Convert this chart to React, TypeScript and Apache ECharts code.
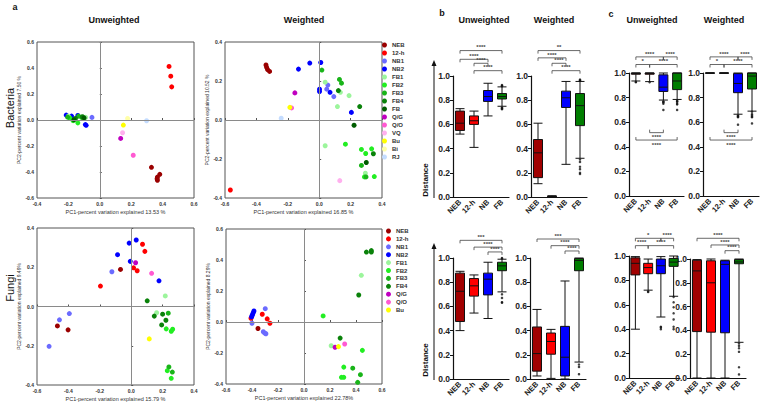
import React, { useEffect, useRef } from 'react';
import * as echarts from 'echarts';

// ---------- DATA ----------
const GROUP_ORDER = ['NEB', '12-h', 'NB1', 'NB2', 'FB1', 'FB2', 'FB3', 'FB4', 'FB', 'Q/G', 'Q/O', 'VQ', 'Bu', 'Bi', 'RJ'];
const LEGEND_BACTERIA = ['NEB', '12-h', 'NB1', 'NB2', 'FB1', 'FB2', 'FB3', 'FB4', 'FB', 'Q/G', 'Q/O', 'VQ', 'Bu', 'Bi', 'RJ'];
const LEGEND_FUNGI = ['NEB', '12-h', 'NB1', 'NB2', 'FB1', 'FB2', 'FB3', 'FB4', 'Q/G', 'Q/O', 'Bu'];

type Pt = [string, number, number];

const bacteriaUnweighted: Pt[] = [
  ['12-h', 0.441, 0.412], ['12-h', 0.452, 0.337], ['12-h', 0.458, 0.255],
  ['NEB', 0.329, -0.364], ['NEB', 0.382, -0.418], ['NEB', 0.367, -0.439], ['NEB', 0.365, -0.452], ['NEB', 0.367, -0.464],
  ['NB2', -0.214, 0.038], ['NB2', -0.18, 0.03], ['NB2', -0.14, 0.035], ['NB2', -0.092, -0.035], ['NB2', -0.087, -0.041],
  ['NB1', -0.05, 0.02],
  ['FB1', -0.2, 0.03], ['FB1', -0.09, 0.02],
  ['FB2', -0.19, 0.015], ['FB2', -0.14, -0.022], ['FB2', -0.17, -0.005],
  ['FB3', -0.205, 0.022], ['FB3', -0.135, 0.03], ['FB3', -0.115, 0.02],
  ['FB4', -0.155, 0.012], ['FB4', -0.11, 0.025],
  ['FB', -0.165, 0.002], ['FB', -0.1, 0.016],
  ['Bi', 0.177, 0.012], ['Bu', 0.15, -0.039], ['VQ', 0.145, -0.098], ['Q/G', 0.133, -0.142],
  ['Q/O', 0.213, -0.271], ['RJ', 0.298, -0.006],
];

const bacteriaWeighted: Pt[] = [
  ['NEB', -0.339, 0.282], ['NEB', -0.335, 0.27], ['NEB', -0.329, 0.259], ['NEB', -0.316, 0.249],
  ['12-h', -0.566, -0.359],
  ['NB1', 0.055, 0.179], ['NB1', 0.048, 0.158], ['NB1', 0.093, 0.12],
  ['NB2', -0.132, 0.261], ['NB2', -0.06, 0.292], ['NB2', 0.01, 0.295], ['NB2', 0.002, 0.158], ['NB2', 0.002, 0.146], ['NB2', 0.069, 0.142], ['NB2', 0.205, 0.039],
  ['FB1', 0.038, 0.194], ['FB1', 0.135, 0.142], ['FB1', 0.116, 0.069], ['FB1', 0.19, 0.125], ['FB1', 0.038, -0.132], ['FB1', 0.294, -0.273],
  ['FB2', 0.167, -0.124], ['FB2', 0.269, -0.151], ['FB2', 0.296, -0.172], ['FB2', 0.334, -0.148], ['FB2', 0.351, -0.29], ['FB2', 0.288, -0.292],
  ['FB3', 0.017, 0.256], ['FB3', 0.129, 0.208], ['FB3', 0.142, 0.189], ['FB3', 0.269, -0.233], ['FB3', 0.298, -0.292],
  ['FB4', 0.122, 0.151], ['FB4', 0.258, 0.069], ['FB4', 0.345, -0.173],
  ['FB', 0.222, -0.027], ['FB', 0.3, -0.218],
  ['Q/G', -0.155, 0.139], ['Q/O', -0.176, 0.062], ['VQ', 0.131, -0.311], ['Bu', -0.187, 0.065], ['RJ', -0.242, 0.009],
];

const fungiUnweighted: Pt[] = [
  ['NB2', -0.013, 0.323], ['NB2', 0.032, 0.339], ['NB2', -0.087, 0.264], ['NB2', -0.006, 0.23], ['NB2', 0.177, 0.131],
  ['NB1', -0.123, 0.177], ['NB1', -0.394, -0.036], ['NB1', -0.457, -0.068], ['NB1', -0.523, -0.203],
  ['12-h', 0.072, 0.317], ['12-h', 0.087, 0.281], ['12-h', 0.015, 0.197], ['12-h', 0.038, 0.182], ['12-h', -0.196, 0.104],
  ['NEB', -0.068, 0.189], ['NEB', -0.47, -0.099], ['NEB', -0.402, -0.119],
  ['Q/G', 0.028, 0.223], ['Q/O', 0.13, 0.169],
  ['FB1', 0.217, 0.054], ['FB1', 0.162, -0.032],
  ['FB4', 0.102, 0.029], ['FB4', 0.147, -0.049], ['FB4', 0.2, -0.039], ['FB4', 0.221, -0.07], ['FB4', 0.194, -0.094],
  ['FB3', 0.236, -0.034], ['FB3', 0.24, -0.308], ['FB3', 0.262, -0.334],
  ['FB2', 0.223, -0.114], ['FB2', 0.264, -0.116], ['FB2', 0.255, -0.126], ['FB2', 0.23, -0.327], ['FB2', 0.255, -0.366],
  ['Bu', 0.115, -0.165],
];

const fungiWeighted: Pt[] = [
  ['NB2', -0.385, 0.071], ['NB2', -0.39, 0.061], ['NB2', -0.395, 0.05], ['NB2', -0.4, 0.041], ['NB2', -0.403, 0.033],
  ['NB1', -0.298, 0.086], ['NB1', -0.4, -0.008], ['NB1', -0.313, -0.063], ['NB1', -0.301, -0.072], ['NB1', -0.293, -0.076],
  ['12-h', -0.408, 0.024], ['12-h', -0.321, 0.05], ['12-h', -0.283, 0.02], ['12-h', -0.262, -0.008],
  ['NEB', -0.354, -0.042],
  ['FB4', 0.48, 0.451], ['FB4', 0.518, 0.461], ['FB4', 0.518, 0.451], ['FB4', 0.421, 0.174], ['FB4', 0.278, -0.104],
  ['FB1', 0.441, 0.301], ['FB1', 0.209, -0.153],
  ['FB2', 0.147, 0.039], ['FB2', 0.449, -0.183], ['FB2', 0.306, -0.291], ['FB2', 0.288, -0.357], ['FB2', 0.306, -0.357],
  ['FB3', 0.375, -0.298], ['FB3', 0.434, -0.34], ['FB3', 0.413, -0.389],
  ['Q/G', 0.239, -0.163], ['Q/O', 0.313, -0.142], ['Bu', 0.265, -0.159],
];

const BOX_CATS = ['NEB', '12-h', 'NB', 'FB'];

// [min, Q1, median, Q3, max]
const bBactUnw = [[0.52, 0.55, 0.61, 0.71, 0.73], [0.41, 0.6, 0.63, 0.67, 0.71], [0.67, 0.79, 0.83, 0.88, 0.94], [0.75, 0.81, 0.83, 0.855, 0.91]];
const bBactUnwOut = [[3, 0.92], [3, 0.925], [3, 0.915], [3, 0.74], [3, 0.735], [3, 0.73], [3, 0.725]];
const bBactW = [[0.11, 0.16, 0.365, 0.475, 0.61], [0.0, 0.003, 0.005, 0.007, 0.01], [0.27, 0.74, 0.82, 0.875, 0.955], [0.32, 0.59, 0.755, 0.855, 0.955]];
const bBactWOut = [[3, 0.96], [3, 0.965], [3, 0.97], [3, 0.31], [3, 0.29], [3, 0.25], [3, 0.23], [3, 0.2], [3, 0.19]];
const bFungUnw = [[0.4, 0.475, 0.725, 0.875, 0.89], [0.545, 0.685, 0.77, 0.83, 0.86], [0.5, 0.695, 0.825, 0.875, 0.965], [0.72, 0.895, 0.935, 0.965, 0.99]];
const bFungUnwOut = [[3, 1.0], [3, 0.995], [3, 0.7], [3, 0.67], [3, 0.635], [3, 0.63]];
const bFungW = [[0.025, 0.065, 0.21, 0.43, 0.575], [0.005, 0.205, 0.31, 0.38, 0.41], [0.0, 0.025, 0.18, 0.435, 0.81], [0.14, 0.895, 0.98, 0.995, 1.0]];
const bFungWOut = [[3, 0.12], [3, 0.1], [3, 0.04]];

const cBactUnw = [[0.935, 0.99, 0.997, 1.0, 1.0], [0.93, 0.99, 0.997, 1.0, 1.0], [0.78, 0.85, 0.885, 0.985, 1.0], [0.785, 0.865, 0.935, 1.0, 1.0]];
const cBactUnwOut = [[0, 0.925], [0, 0.928], [1, 0.925], [2, 0.77], [2, 0.765], [2, 0.76], [2, 0.75], [2, 0.7], [3, 0.775], [3, 0.77], [3, 0.765], [3, 0.75], [3, 0.745], [3, 0.7]];
const cBactW = [[0.998, 0.999, 1.0, 1.0, 1.0], [0.998, 0.999, 1.0, 1.0, 1.0], [0.665, 0.84, 0.915, 0.995, 1.0], [0.69, 0.87, 0.975, 1.0, 1.0]];
const cBactWOut = [[2, 0.655], [2, 0.65], [2, 0.645], [2, 0.64], [2, 0.58], [3, 0.685], [3, 0.665], [3, 0.655], [3, 0.645], [3, 0.64], [3, 0.59]];
const cFungUnw = [[0.4, 0.845, 0.94, 0.985, 0.995], [0.72, 0.855, 0.905, 0.94, 0.975], [0.5, 0.855, 0.92, 0.975, 0.995], [0.67, 0.915, 0.95, 0.98, 1.0]];
const cFungUnwOut = [[1, 0.71], [1, 0.705], [2, 0.42], [2, 0.415], [2, 0.4], [3, 0.665], [3, 0.62], [3, 0.58], [3, 0.53], [3, 0.48], [3, 0.42], [3, 0.4]];
const cFungW = [[0.0, 0.39, 0.9, 0.99, 0.995], [0.0, 0.385, 0.8, 0.985, 1.0], [0.0, 0.38, 0.955, 0.985, 0.99], [0.3, 0.96, 0.975, 0.995, 1.0]];
const cFungWOut = [[3, 0.29], [3, 0.27], [3, 0.25], [3, 0.22], [3, 0.09], [3, 0.03]];

// significance brackets: [fromCat, toCat, level, direction(1 above / -1 below), label]
type Br = [number, number, number, number, string];
const sigBBactUnw: Br[] = [[0, 3, 1.21, 1, '****'], [0, 2, 1.138, 1, '****'], [1, 2, 1.105, 1, '****'], [1, 3, 1.044, 1, '****']];
const sigBBactW: Br[] = [[0, 3, 1.21, 1, '**'], [0, 2, 1.15, 1, '****'], [1, 2, 1.105, 1, '****'], [1, 3, 1.044, 1, '****']];
const sigBFungUnw: Br[] = [[0, 3, 1.146, 1, '***'], [1, 3, 1.09, 1, '****'], [2, 3, 1.05, 1, '****']];
const sigBFungW: Br[] = [[0, 3, 1.157, 1, '***'], [1, 3, 1.102, 1, '****'], [2, 3, 1.058, 1, '****']];
const sigCBactUnw: Br[] = [[0, 2, 1.131, 1, '****'], [2, 3, 1.131, 1, '****'], [0, 1, 1.069, 1, '*'], [1, 3, 1.069, 1, '****'], [1, 2, 0.515, -1, '****'], [0, 3, 0.455, -1, '****']];
const sigCBactW: Br[] = [[0, 2, 1.131, 1, '****'], [2, 3, 1.131, 1, '****'], [0, 1, 1.069, 1, '*'], [1, 3, 1.069, 1, '****'], [1, 2, 0.515, -1, '****'], [0, 3, 0.455, -1, '****']];
const sigCFungUnw: Br[] = [[0, 2, 1.145, 1, '*'], [2, 3, 1.145, 1, '****'], [0, 1, 1.085, 1, '****'], [1, 3, 1.085, 1, '****']];
const sigCFungW: Br[] = [[0, 3, 1.174, 1, '****'], [1, 3, 1.118, 1, '****'], [2, 3, 1.07, 1, '****']];

// ---------- STYLES ----------
const COLORS: Record<string, string> = {
  'NEB': '#9a0000', '12-h': '#ff0000', 'NB1': '#6b6bff', 'NB2': '#0000ff',
  'FB1': '#9cf59c', 'FB2': '#22ee22', 'FB3': '#19b419', 'FB4': '#0a820a', 'FB': '#005c00',
  'Q/G': '#c000c0', 'Q/O': '#ff5ad2', 'VQ': '#ffb0ee', 'Bu': '#ffff00', 'Bi': '#ffffa8', 'RJ': '#c4dcff',
};
const BOX_COLORS = ['#a00000', '#ff0000', '#0000ff', '#007d00'];
const FONT = 'Liberation Sans, Arial, sans-serif';

const fmt = (v: number) => (Math.abs(v) < 1e-9 ? 0 : v).toFixed(1);

export default function App() {
  const ref = useRef<HTMLDivElement>(null);
  useEffect(() => {
    if (!ref.current) return;
    const chart = echarts.init(ref.current, undefined, { renderer: 'svg' });

    const scatterGrids = [
      { left: 37, top: 42, width: 157, height: 156 },
      { left: 225, top: 42, width: 157, height: 156 },
      { left: 37, top: 228, width: 157, height: 157 },
      { left: 226, top: 229, width: 156, height: 155 },
    ];
    const boxGrids = [
      { left: 453, top: 76, width: 56, height: 121 },
      { left: 531, top: 76, width: 56, height: 121 },
      { left: 453, top: 258, width: 56, height: 121 },
      { left: 530, top: 258, width: 56, height: 121 },
      { left: 629, top: 73, width: 55, height: 123 },
      { left: 703, top: 73, width: 56, height: 123 },
      { left: 629, top: 256, width: 51, height: 122 },
      { left: 690, top: 259, width: 56, height: 119 },
    ];
    const scatterAxes = [
      { xr: [-0.4, 0.6], yr: [-0.6, 0.6], xn: 'PC1-percent variation explained 13.53 %', yn: 'PC2-percent variation explained 7.50 %', pts: bacteriaUnweighted },
      { xr: [-0.6, 0.4], yr: [-0.4, 0.4], xn: 'PC1-percent variation explained 16.85 %', yn: 'PC2-percent variation explained 10.52 %', pts: bacteriaWeighted },
      { xr: [-0.6, 0.4], yr: [-0.4, 0.4], xn: 'PC1-percent variation explained 15.79 %', yn: 'PC2-percent variation explained 9.49%', pts: fungiUnweighted },
      { xr: [-0.6, 0.6], yr: [-0.4, 0.6], xn: 'PC1-percent variation explained 22.78%', yn: 'PC2-percent variation explained 8.29%', pts: fungiWeighted },
    ];
    const boxPanels = [
      { b: bBactUnw, o: bBactUnwOut, s: sigBBactUnw },
      { b: bBactW, o: bBactWOut, s: sigBBactW },
      { b: bFungUnw, o: bFungUnwOut, s: sigBFungUnw },
      { b: bFungW, o: bFungWOut, s: sigBFungW },
      { b: cBactUnw, o: cBactUnwOut, s: sigCBactUnw },
      { b: cBactW, o: cBactWOut, s: sigCBactW },
      { b: cFungUnw, o: cFungUnwOut, s: sigCFungUnw },
      { b: cFungW, o: cFungWOut, s: sigCFungW },
    ];

    const grid: any[] = [];
    const xAxis: any[] = [];
    const yAxis: any[] = [];
    const series: any[] = [];

    scatterAxes.forEach((p, i) => {
      grid.push({ ...scatterGrids[i], show: true, borderColor: '#555', borderWidth: 1, containLabel: false });
      xAxis.push({
        type: 'value', gridIndex: i, min: p.xr[0], max: p.xr[1], interval: 0.2,
        axisLine: { show: false }, splitLine: { show: false },
        axisTick: { show: true, inside: true, length: 2, lineStyle: { color: '#555' } },
        axisLabel: { fontSize: 5, fontWeight: 'bold', color: '#333', margin: 3, formatter: fmt, fontFamily: FONT },
        name: p.xn, nameLocation: 'middle', nameGap: 11,
        nameTextStyle: { fontSize: 5.5, color: '#333', fontFamily: FONT },
      });
      yAxis.push({
        type: 'value', gridIndex: i, min: p.yr[0], max: p.yr[1], interval: 0.2,
        axisLine: { show: false }, splitLine: { show: false },
        axisTick: { show: true, inside: true, length: 2, lineStyle: { color: '#555' } },
        axisLabel: { fontSize: 5, fontWeight: 'bold', color: '#333', margin: 3, formatter: fmt, fontFamily: FONT },
        name: p.yn, nameLocation: 'middle', nameGap: 16,
        nameTextStyle: { fontSize: 5, color: '#333', fontFamily: FONT },
      });
      series.push({
        type: 'scatter', name: 'zero' + i, xAxisIndex: i, yAxisIndex: i, data: [],
        silent: true,
        markLine: {
          silent: true, symbol: ['none', 'none'], label: { show: false },
          lineStyle: { color: '#8a8a8a', width: 1, type: 'solid' },
          data: [{ xAxis: 0 }, { yAxis: 0 }],
        },
      });
      GROUP_ORDER.filter((g) => p.pts.some((q) => q[0] === g)).forEach((g) => {
        series.push({
          type: 'scatter', name: g, xAxisIndex: i, yAxisIndex: i, symbolSize: 5,
          itemStyle: { color: COLORS[g], opacity: 1 },
          data: p.pts.filter((q) => q[0] === g).map((q) => [q[1], q[2]]),
        });
      });
    });

    boxPanels.forEach((p, k) => {
      const gi = k + 4;
      grid.push({ ...boxGrids[k], show: false });
      xAxis.push({
        type: 'category', gridIndex: gi, data: BOX_CATS, boundaryGap: true,
        axisLine: { lineStyle: { color: '#111', width: 1.2 } },
        axisTick: { alignWithLabel: true, length: 3, lineStyle: { color: '#111' } },
        axisLabel: { rotate: 45, fontSize: 7.5, fontWeight: 'bold', color: '#222', margin: 4, interval: 0, fontFamily: FONT },
      });
      yAxis.push({
        type: 'value', gridIndex: gi, min: 0, max: 1, interval: 0.2,
        axisLine: { show: true, lineStyle: { color: '#111', width: 1.2 } },
        axisTick: { show: true, length: 3, lineStyle: { color: '#111' } },
        splitLine: { show: false },
        axisLabel: { fontSize: 8.5, fontWeight: 'bold', color: '#222', margin: 3, formatter: fmt, fontFamily: FONT },
      });
      series.push({
        type: 'boxplot', name: 'box' + k, xAxisIndex: gi, yAxisIndex: gi, boxWidth: [9, 9],
        itemStyle: { borderColor: '#111', borderWidth: 1 },
        data: p.b.map((v, i) => ({ value: v, itemStyle: { color: BOX_COLORS[i], borderColor: '#111', borderWidth: 1 } })),
      });
      series.push({
        type: 'scatter', name: 'out' + k, xAxisIndex: gi, yAxisIndex: gi, symbolSize: 2.5,
        itemStyle: { color: '#111' }, data: p.o,
      });
      const list = p.s;
      series.push({
        type: 'custom', name: 'sig' + k, xAxisIndex: gi, yAxisIndex: gi, silent: true, clip: false,
        encode: { x: 0, y: 2 },
        data: list.map((b) => [b[0], b[1], b[2]]),
        renderItem: (params: any, api: any) => {
          const b = list[params.dataIndex];
          const p1 = api.coord([b[0], b[2]]);
          const p2 = api.coord([b[1], b[2]]);
          const dir = b[3];
          const t = 3 * dir;
          return {
            type: 'group',
            children: [
              {
                type: 'polyline',
                shape: { points: [[p1[0], p1[1] + t], [p1[0], p1[1]], [p2[0], p2[1]], [p2[0], p2[1] + t]] },
                style: { stroke: '#444', lineWidth: 0.8, fill: 'none' },
              },
              {
                type: 'text',
                x: (p1[0] + p2[0]) / 2,
                y: dir > 0 ? p1[1] - 0.3 : p1[1] + 1.5,
                style: {
                  text: b[4], fontSize: 6, fill: '#444', align: 'center',
                  verticalAlign: dir > 0 ? 'bottom' : 'top', fontWeight: 'bold', fontFamily: FONT,
                },
              },
            ],
          };
        },
      });
    });

    const titleStyle = { fontSize: 9, fontWeight: 'bold', fill: '#111', fontFamily: FONT, align: 'center', verticalAlign: 'middle' };
    const graphic: any[] = [
      { type: 'text', x: 15, y: 7, style: { ...titleStyle, text: 'a' } },
      { type: 'text', x: 442, y: 13, style: { ...titleStyle, text: 'b' } },
      { type: 'text', x: 611, y: 14, style: { ...titleStyle, text: 'c' } },
      { type: 'text', x: 114, y: 20, style: { ...titleStyle, text: 'Unweighted' } },
      { type: 'text', x: 304, y: 20, style: { ...titleStyle, text: 'Weighted' } },
      { type: 'text', x: 484, y: 20, style: { ...titleStyle, text: 'Unweighted' } },
      { type: 'text', x: 554, y: 20, style: { ...titleStyle, text: 'Weighted' } },
      { type: 'text', x: 652, y: 20, style: { ...titleStyle, text: 'Unweighted' } },
      { type: 'text', x: 724, y: 20, style: { ...titleStyle, text: 'Weighted' } },
      { type: 'text', x: 10, y: 108, rotation: Math.PI / 2, style: { fontSize: 11, fill: '#111', fontFamily: FONT, text: 'Bacteria', align: 'center', verticalAlign: 'middle' } },
      { type: 'text', x: 10, y: 288, rotation: Math.PI / 2, style: { fontSize: 11, fill: '#111', fontFamily: FONT, text: 'Fungi', align: 'center', verticalAlign: 'middle' } },
      { type: 'text', x: 425, y: 180, rotation: Math.PI / 2, style: { fontSize: 8, fontWeight: 'bold', fill: '#111', fontFamily: FONT, text: 'Distance', align: 'center', verticalAlign: 'middle' } },
      { type: 'text', x: 425, y: 360, rotation: Math.PI / 2, style: { fontSize: 8, fontWeight: 'bold', fill: '#111', fontFamily: FONT, text: 'Distance', align: 'center', verticalAlign: 'middle' } },
      { type: 'line', shape: { x1: 434, y1: 198, x2: 434, y2: 64 }, style: { stroke: '#111', lineWidth: 1 } },
      { type: 'polygon', shape: { points: [[431.5, 66], [436.5, 66], [434, 60]] }, style: { fill: '#111' } },
      { type: 'line', shape: { x1: 434, y1: 380, x2: 434, y2: 247 }, style: { stroke: '#111', lineWidth: 1 } },
      { type: 'polygon', shape: { points: [[431.5, 249], [436.5, 249], [434, 243]] }, style: { fill: '#111' } },
    ];

    const legendBase = {
      orient: 'vertical', icon: 'circle', itemWidth: 5, itemHeight: 6, padding: 0,
      selectedMode: false,
      textStyle: { fontSize: 6, lineHeight: 6, fontWeight: 'bold', color: '#333', fontFamily: FONT },
    };

    chart.setOption({
      animation: false,
      backgroundColor: '#ffffff',
      textStyle: { fontFamily: FONT },
      grid, xAxis, yAxis, series, graphic,
      legend: [
        { ...legendBase, left: 382, top: 42, itemGap: 2, data: LEGEND_BACTERIA },
        { ...legendBase, left: 386, top: 228, itemGap: 1.9, data: LEGEND_FUNGI },
      ],
    });
    return () => chart.dispose();
  }, []);

  return <div ref={ref} style={{ position: 'absolute', left: 0, top: 0, width: 760, height: 404, background: '#fff' }} />;
}
